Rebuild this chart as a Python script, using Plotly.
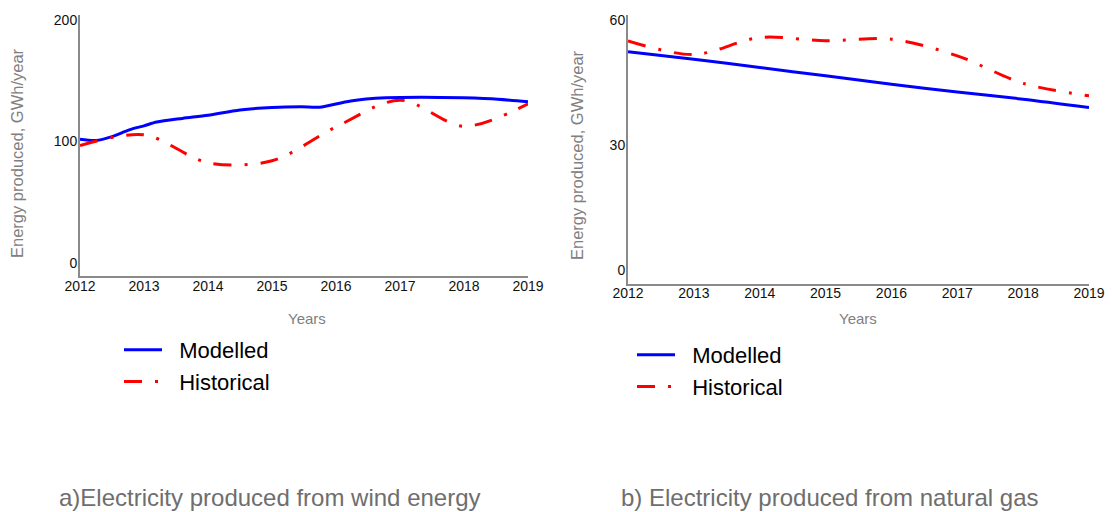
import plotly.graph_objects as go

# ---- data -------------------------------------------------------------
years = [2012, 2013, 2014, 2015, 2016, 2017, 2018, 2019]
year_labels = [str(y) for y in years]

# (a) wind energy, GWh/year
wind_model_x = [2012.0, 2012.25, 2012.5, 2012.77, 2013.0, 2013.2, 2013.6, 2014.0,
                2014.5, 2015.0, 2015.46, 2015.74, 2016.23, 2016.78, 2017.33,
                2017.98, 2018.53, 2019.0]
wind_model_y = [101.9, 100.8, 104.0, 109.6, 112.9, 116.0, 119.0, 121.6,
                126.0, 128.0, 128.5, 128.2, 133.4, 135.9, 136.4,
                135.9, 134.8, 132.6]
wind_hist_y = [96.7, 105.5, 82.5, 84.1, 112.0, 134.0, 112.5, 131.0]

# (b) natural gas, GWh/year
gas_model_y = [52.4, 50.6, 48.6, 46.6, 44.6, 42.7, 41.0, 39.0]
gas_hist_y = [55.0, 51.7, 55.8, 55.0, 55.4, 51.4, 44.8, 41.8]

wind_ticks = [0, 100, 200]
gas_ticks = [0, 30, 60]

series_names = ["\u00a0\u00a0Modelled", "\u00a0\u00a0Historical"]

BLUE = "#0000ff"
RED = "#ff0000"
AXIS = "#8a8a8a"
GREY_TXT = "#6e6e6e"
DASHDOT = "18px,13px,3px,13px"
SANS = "Liberation Sans, Arial, sans-serif"

W, H = 1112, 512


def px_x(p):
    return p / W


def px_y(p):
    return 1 - p / H


fig = go.Figure()

fig.add_trace(go.Scatter(x=wind_model_x, y=wind_model_y, name=series_names[0],
                         mode="lines", line=dict(color=BLUE, width=3, shape="spline", smoothing=0.8),
                         xaxis="x", yaxis="y", legend="legend"))
fig.add_trace(go.Scatter(x=years, y=wind_hist_y, name=series_names[1],
                         mode="lines", line=dict(color=RED, width=3, dash=DASHDOT, shape="spline", smoothing=0.9),
                         xaxis="x", yaxis="y", legend="legend"))
fig.add_trace(go.Scatter(x=years, y=gas_model_y, name=series_names[0],
                         mode="lines", line=dict(color=BLUE, width=3, shape="spline", smoothing=0.8),
                         xaxis="x2", yaxis="y2", legend="legend2"))
fig.add_trace(go.Scatter(x=years, y=gas_hist_y, name=series_names[1],
                         mode="lines", line=dict(color=RED, width=3, dash=DASHDOT, shape="spline", smoothing=0.9),
                         xaxis="x2", yaxis="y2", legend="legend2"))

xcommon = dict(tickvals=years, ticktext=year_labels, showgrid=False, zeroline=False,
               showline=True, linecolor=AXIS, linewidth=2, ticks="", automargin=False,
               ticklabelstandoff=-4,
               tickfont=dict(family=SANS, size=14, color="#111111"))
ycommon = dict(showgrid=False, zeroline=False, showline=True, linecolor=AXIS,
               linewidth=2, ticks="", automargin=False, ticklabelstandoff=-2,
               tickfont=dict(family=SANS, size=14, color="#111111"))

legend_font = dict(family=SANS, size=22, color="#000000")

fig.update_layout(
    width=W, height=H,
    margin=dict(l=0, r=0, t=0, b=0, autoexpand=False),
    paper_bgcolor="white", plot_bgcolor="white",
    showlegend=True,
    xaxis=dict(domain=[px_x(80), px_x(528)], range=[2012, 2019], anchor="y", **xcommon),
    yaxis=dict(domain=[px_y(276), px_y(15)], range=[-10.7, 204.1], anchor="x",
               tickvals=wind_ticks, **ycommon),
    xaxis2=dict(domain=[px_x(628), px_x(1089)], range=[2012, 2019], anchor="y2", **xcommon),
    yaxis2=dict(domain=[px_y(283.5), px_y(15)], range=[-3.24, 61.2], anchor="x2",
                tickvals=gas_ticks, **ycommon),
    legend=dict(x=px_x(119), y=px_y(329), xanchor="left", yanchor="top",
                bgcolor="rgba(0,0,0,0)", font=legend_font, itemwidth=38,
                tracegroupgap=0),
    legend2=dict(x=px_x(632), y=px_y(334), xanchor="left", yanchor="top",
                 bgcolor="rgba(0,0,0,0)", font=legend_font, itemwidth=38,
                 tracegroupgap=0),
)

annotations = [
    dict(text="Energy produced, GWh/year", x=px_x(17), y=px_y(153), textangle=-90,
         font=dict(family=SANS, size=16.5, color="#808080")),
    dict(text="Energy produced, GWh/year", x=px_x(577), y=px_y(155), textangle=-90,
         font=dict(family=SANS, size=16.5, color="#808080")),
    dict(text="Years", x=px_x(306.5), y=px_y(318.5),
         font=dict(family=SANS, size=15, color="#808080")),
    dict(text="Years", x=px_x(858), y=px_y(318.5),
         font=dict(family=SANS, size=15, color="#808080")),
    dict(text="a)Electricity produced from wind energy", x=px_x(269.5), y=px_y(497),
         font=dict(family=SANS, size=24, color=GREY_TXT)),
    dict(text="b) Electricity produced from natural gas", x=px_x(830), y=px_y(497),
         font=dict(family=SANS, size=24, color=GREY_TXT)),
]
for a in annotations:
    a.update(xref="paper", yref="paper", showarrow=False, xanchor="center", yanchor="middle")
fig.update_layout(annotations=annotations)

fig.write_html("out.html")
